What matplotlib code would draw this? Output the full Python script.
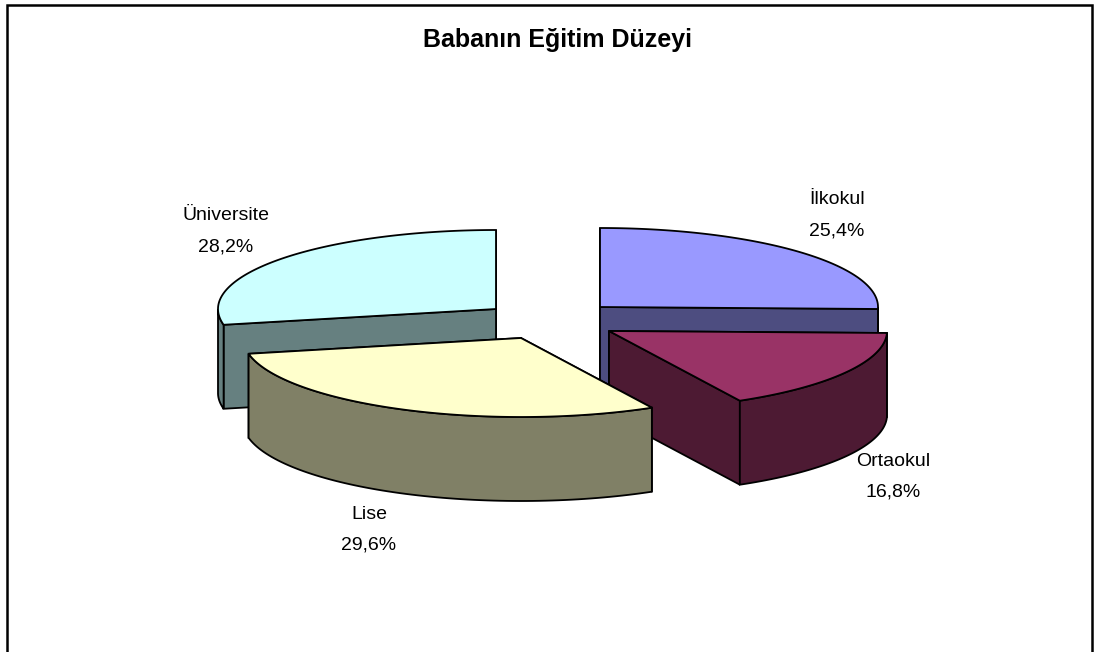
import numpy as np
import matplotlib
matplotlib.use("Agg")
import matplotlib.pyplot as plt

title = "Babanın Eğitim Düzeyi"
labels = ["İlkokul", "Ortaokul", "Lise", "Üniversite"]
values = [25.4, 16.8, 29.6, 28.2]
top_colors = ["#9999FF", "#993366", "#FFFFCC", "#CCFFFF"]
side_colors = ["#4D4D80", "#4D1A33", "#808066", "#668080"]

# layout of the exploded 3D pie, in figure pixels
centers = [(600, 307), (609, 331), (521, 338), (496, 309)]
label_pos = [(837, 204.5), (893, 465.5), (369, 519), (226, 220)]
RX, RY, DEPTH = 278, 79, 84
draw_order = [3, 0, 1, 2]

plt.rcParams["font.family"] = ["Liberation Sans", "DejaVu Sans"]
fig = plt.figure(figsize=(10.95, 6.52), dpi=100)
ax = fig.add_axes([0, 0, 1, 1])
ax.set_xlim(0, 1095)
ax.set_ylim(652, 0)
ax.axis("off")

LW = 1.3
fractions = np.array(values) / sum(values) * 360
ends = np.cumsum(fractions)
starts = ends - fractions


def pt(c, a):
    r = np.radians(a)
    return c[0] + RX * np.sin(r), c[1] - RY * np.cos(r)


for i in draw_order:
    c, a0, a1 = centers[i], starts[i], ends[i]
    side, top = side_colors[i], top_colors[i]
    style = dict(edgecolor="black", linewidth=LW, joinstyle="miter")
    # cut faces, farther one first
    for a in sorted([a0, a1], key=lambda v: np.cos(np.radians(v)), reverse=True):
        x, y = pt(c, a)
        ax.fill([c[0], x, x, c[0]], [c[1], y, y + DEPTH, c[1] + DEPTH],
                facecolor=side, **style)
    # outer wall (front half of the rim only)
    lo, hi = max(a0, 90), min(a1, 270)
    if hi > lo:
        xs, ys = pt(c, np.linspace(lo, hi, 80))
        ax.fill(np.r_[xs, xs[::-1]], np.r_[ys, ys[::-1] + DEPTH],
                facecolor=side, **style)
    # top face
    xs, ys = pt(c, np.linspace(a0, a1, 120))
    ax.fill(np.r_[c[0], xs], np.r_[c[1], ys], facecolor=top, **style)

for name, v, (x, y) in zip(labels, values, label_pos):
    ax.text(x, y, name, ha="center", va="baseline", fontsize=14, color="black")
    ax.text(x, y + 31, f"{v:.1f}%".replace(".", ","), ha="center", va="baseline",
            fontsize=14, color="black")

ax.text(557.5, 47.5, title, ha="center", va="baseline", fontsize=18,
        fontweight="bold", color="black")

# chart frame (bottom edge falls outside the picture)
ax.plot([6.5, 6.5, 1091.5, 1091.5], [652, 4.5, 4.5, 652], color="black",
        linewidth=1.8, solid_joinstyle="miter", clip_on=False)

fig.savefig("out.png", dpi=100, facecolor="white")
